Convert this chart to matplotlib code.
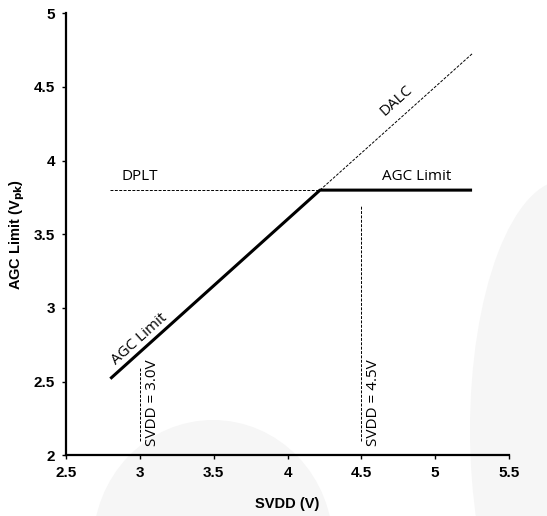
import matplotlib
matplotlib.use("Agg")
import matplotlib.pyplot as plt
from matplotlib.patches import Ellipse

# AGC limit (solid), DALC and DPLT thresholds (dashed)
agc_x = [2.8, 4.22, 5.25]
agc_y = [2.52, 3.8, 3.8]
dalc_x = [4.22, 5.25]
dalc_y = [3.8, 4.725]
dplt_x = [2.8, 4.22]
dplt_y = [3.8, 3.8]
# supply markers
svdd_marks = [3.0, 4.5]
svdd_lo = [2.1, 2.1]
svdd_hi = [2.6, 3.7]
svdd_text = ["SVDD = 3.0V", "SVDD = 4.5V"]

xticks = [2.5, 3, 3.5, 4, 4.5, 5, 5.5]
yticks = [2, 2.5, 3, 3.5, 4, 4.5, 5]

fig = plt.figure(figsize=(5.47, 5.16), dpi=100)

# faint grey shapes in the background
bg = fig.add_axes([0, 0, 1, 1], zorder=0)
bg.set_xlim(0, 547)
bg.set_ylim(516, 0)
bg.axis("off")
bg.add_patch(Ellipse((565, 430), 190, 500, fc="#f6f6f6", ec="none"))
bg.add_patch(Ellipse((213, 545), 240, 250, fc="#f6f6f6", ec="none"))

ax = fig.add_axes([0.1207, 0.1176, 0.8098, 0.8566], zorder=1)
ax.patch.set_alpha(0)

ax.plot(agc_x, agc_y, color="black", lw=2.2, solid_capstyle="butt")
ax.plot(dalc_x, dalc_y, color="black", lw=0.7, ls=(0, (3, 1.5)))
ax.plot(dplt_x, dplt_y, color="black", lw=0.7, ls=(0, (3, 1.5)))
for xv, lo, hi in zip(svdd_marks, svdd_lo, svdd_hi):
    ax.plot([xv, xv], [lo, hi], color="black", lw=0.7, ls=(0, (3, 1.5)))

tf = dict(family=["Open Sans", "DejaVu Sans"], fontsize=11)
ax.text(2.877, 3.89, "DPLT", ha="left", va="center", **tf)
ax.text(4.875, 3.89, "AGC Limit", ha="center", va="center", **tf)
ax.text(4.74, 4.41, "DALC", ha="center", va="center", rotation=42, **tf)
ax.text(3.0, 2.79, "AGC Limit", ha="center", va="center", rotation=42, **tf)
for xv, s in zip(svdd_marks, svdd_text):
    ax.text(xv + 0.085, 2.355, s, ha="center", va="center", rotation=90, **tf)

ax.set_xlim(2.5, 5.5)
ax.set_ylim(2, 5)
ax.set_xticks(xticks)
ax.set_yticks(yticks)
ax.set_xticklabels([f"{v:g}" for v in xticks])
ax.set_yticklabels([f"{v:g}" for v in yticks])
for lab in ax.get_xticklabels() + ax.get_yticklabels():
    lab.set_fontfamily("Liberation Sans")
    lab.set_fontweight("bold")
    lab.set_fontsize(11)
ax.tick_params(direction="out", length=3, width=1, pad=5)
for side in ["top", "right"]:
    ax.spines[side].set_visible(False)
for side in ["left", "bottom"]:
    ax.spines[side].set_linewidth(1.6)

ax.set_xlabel("SVDD (V)", family="Liberation Sans", fontweight="bold",
              fontsize=10.5, labelpad=12)
ax.set_ylabel("AGC Limit (V$_{\\mathbf{pk}}$)", family="Liberation Sans",
              fontweight="bold", fontsize=10.5, labelpad=5)

fig.savefig("out.png", dpi=100)
